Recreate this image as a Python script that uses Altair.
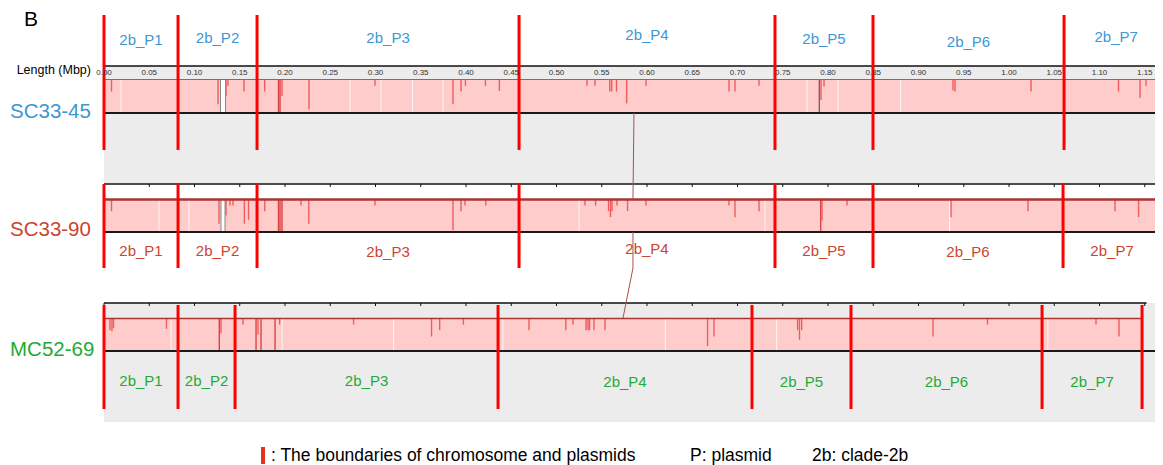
import altair as alt
import pandas as pd

FONT = "Liberation Sans"
XMAX = 1.1613  # Mbp shown across the plot width

# ---------------- data (Mbp) ----------------
genomes = ["SC33-45", "SC33-90", "MC52-69"]
genome_colors = ["#3d97d3", "#cc4430", "#1faa35"]
plasmids = ["2b_P1", "2b_P2", "2b_P3", "2b_P4", "2b_P5", "2b_P6", "2b_P7"]

bounds_sc3345 = [0.0, 0.0818, 0.1691, 0.4586, 0.7414, 0.8497, 1.0608]
bounds_sc3390 = [0.0, 0.0818, 0.1691, 0.4586, 0.7414, 0.8497, 1.0597]
bounds_mc5269 = [0.0, 0.0818, 0.1448, 0.4354, 0.7160, 0.8254, 1.0365, 1.1470]
genome_ends = [1.1760, 1.1680, 1.1459]

dip_pos_sc3345 = [0.0083, 0.1260, 0.1348, 0.1370, 0.1547, 0.1775, 0.1928, 0.1945, 0.1967,
                  0.2265, 0.2994, 0.3856, 0.3945, 0.3994, 0.4215, 0.4369, 0.5337, 0.5425,
                  0.5588, 0.5610, 0.5663, 0.5775, 0.5989, 0.6906, 0.6972, 0.7238, 0.7923,
                  0.7956, 0.9381, 0.9403, 1.0243, 1.1210, 1.1448, 1.1514]
dip_depth_sc3345 = [0.37, 0.74, 0.50, 0.20, 0.37, 0.37, 1.00, 1.00, 0.50,
                    0.90, 0.20, 0.74, 0.37, 0.20, 0.20, 0.35, 0.20, 0.20,
                    0.37, 0.37, 0.37, 0.72, 0.20, 0.37, 0.37, 0.20, 0.62,
                    0.22, 0.34, 0.37, 0.37, 0.37, 0.55, 0.20]
gap_pos_sc3345 = [0.0188, 0.2718, 0.3061, 0.3409, 0.3746, 0.7768, 0.8110, 0.8802]
notch_sc3345 = [0.1287, 0.1343]
dark_line_sc3345 = [0.7904]

dip_pos_sc3390 = [0.0083, 0.1271, 0.1348, 0.1392, 0.1425, 0.1551, 0.1597, 0.1776, 0.1928,
                  0.1945, 0.1967, 0.2177, 0.2263, 0.2994, 0.3856, 0.3945, 0.3989, 0.4219,
                  0.5315, 0.5432, 0.5575, 0.5597, 0.5613, 0.5669, 0.5785, 0.5989, 0.6906,
                  0.6972, 0.7238, 0.7919, 0.7934, 0.8210, 0.9359, 1.0210, 1.1171, 1.1432]
dip_depth_sc3390 = [0.37, 0.75, 0.50, 0.20, 0.20, 0.75, 0.63, 0.37, 1.00,
                    1.00, 1.00, 0.20, 0.75, 0.20, 0.95, 0.37, 0.20, 0.20,
                    0.20, 0.20, 0.37, 0.55, 0.37, 0.20, 0.37, 0.20, 0.20,
                    0.55, 0.37, 1.00, 0.65, 0.20, 0.55, 0.37, 0.37, 0.55]
gap_pos_sc3390 = [0.0608, 0.0939, 0.5249, 0.7304, 0.9343]
notch_sc3390 = [0.1293, 0.1337]

dip_pos_mc5269 = [0.0066, 0.0088, 0.0105, 0.0690, 0.1274, 0.1293, 0.1536, 0.1680, 0.1702,
                  0.1735, 0.1890, 0.1941, 0.2758, 0.3619, 0.3709, 0.3971, 0.4696, 0.5103,
                  0.5182, 0.5326, 0.5348, 0.5365, 0.5414, 0.5536, 0.6669, 0.6740, 0.7664,
                  0.7685, 0.7709, 0.9160, 0.9762, 1.0961, 1.1215]
dip_depth_mc5269 = [0.37, 0.40, 0.30, 0.33, 1.00, 0.46, 0.20, 1.00, 0.50,
                    1.00, 1.00, 0.20, 0.20, 0.56, 0.37, 0.20, 0.37, 0.37,
                    0.20, 0.37, 0.37, 0.37, 0.37, 0.37, 0.85, 0.56, 0.37,
                    0.66, 0.37, 0.56, 0.20, 0.20, 0.56]
gap_pos_mc5269 = [0.0740, 0.1967, 0.3200, 0.4406, 0.6203, 0.7432, 1.0429]

connector_mbp = [0.5856, 0.5845, 0.5845, 0.5845, 0.5735]

tick_values = [0.00, 0.05, 0.10, 0.15, 0.20, 0.25, 0.30, 0.35, 0.40, 0.45, 0.50, 0.55,
               0.60, 0.65, 0.70, 0.75, 0.80, 0.85, 0.90, 0.95, 1.00, 1.05, 1.10, 1.15]
tick_labels = ["0.00", "0.05", "0.10", "0.15", "0.20", "0.25", "0.30", "0.35", "0.40",
               "0.45", "0.50", "0.55", "0.60", "0.65", "0.70", "0.75", "0.80", "0.85",
               "0.90", "0.95", "1.00", "1.05", "1.10", "1.15"]

# ---------------- layout (page rows) ----------------
panels = [
    dict(top=79, bot=113, btop=15, bbot=150, lab_y=[40, 38, 38, 35, 39, 42, 37],
         edge="#c45050", edge_w=1.2, bg=(66, 183), ruler=66, ruler_end=XMAX, ticks=False),
    dict(top=199, bot=232, btop=184, bbot=268, lab_y=[251, 251, 252, 249, 251, 252, 251],
         edge="#a83434", edge_w=2.5, bg=None, ruler=184, ruler_end=XMAX, ticks=True),
    dict(top=318, bot=351, btop=305, bbot=409, lab_y=[381, 381, 381, 382, 382, 382, 382],
         edge="#a83434", edge_w=1.5, bg=(303, 422), ruler=303, ruler_end=1.152, ticks=True),
]
bounds = [bounds_sc3345, bounds_sc3390, bounds_mc5269]
dips = [(dip_pos_sc3345, dip_depth_sc3345), (dip_pos_sc3390, dip_depth_sc3390),
        (dip_pos_mc5269, dip_depth_mc5269)]
gaps = [gap_pos_sc3345, gap_pos_sc3390, gap_pos_mc5269]
notches = [notch_sc3345, notch_sc3390, None]

rects, rules, texts = [], [], []


def rule(x, x2, y, y2, color, w, op=1.0):
    rules.append(dict(x=x, x2=x2, y=y, y2=y2, color=color, w=w, op=op))


for i, p in enumerate(panels):
    if p["bg"]:
        rects.append(dict(x=0, x2=XMAX, y=p["bg"][0], y2=p["bg"][1], fill="#ececec"))
    rects.append(dict(x=0, x2=min(genome_ends[i], XMAX), y=p["top"], y2=p["bot"], fill="#ffcccc"))
    if notches[i]:
        rects.append(dict(x=notches[i][0], x2=notches[i][1], y=p["top"], y2=p["bot"], fill="#ffffff"))

rects_df = pd.DataFrame(rects)

# rulers
for i, p in enumerate(panels):
    rule(0, p["ruler_end"], p["ruler"], p["ruler"], "#111111", 1.5)
    if p["ticks"]:
        for t in tick_values:
            if t <= p["ruler_end"]:
                rule(t, t, p["ruler"], p["ruler"] + 3, "#111111", 1)

for i, p in enumerate(panels):
    h = p["bot"] - p["top"]
    pos, dep = dips[i]
    for x, d in zip(pos, dep):
        col = "#d84444" if d >= 0.99 else "#f05c5c"
        rule(x, x, p["top"], p["top"] + d * h, col, 1.4)
    for x in gaps[i]:
        rule(x, x, p["top"] + 1, p["bot"], "#ffffff", 1, 0.8)
    if notches[i]:
        a, b = notches[i]
        rule(a, a, p["top"], p["bot"], "#888888", 1)
        rule(b, b, p["top"], p["bot"], "#888888", 1)
    if i == 0:
        for x in dark_line_sc3345:
            rule(x, x, p["top"], p["bot"], "#8a5a5a", 1.4)
    rule(0, min(genome_ends[i], XMAX), p["top"] + 0.5, p["top"] + 0.5, p["edge"], p["edge_w"])
    rule(0, XMAX, p["bot"], p["bot"], "#1a1a1a", 2)

# boundaries
for i, p in enumerate(panels):
    for b in bounds[i]:
        rule(b, b, p["btop"], p["bbot"], "#ff0000", 3)

# connector between aligned blocks
c = connector_mbp
rule(c[0], c[1], panels[0]["bot"], panels[1]["top"], "#a85050", 1)
rule(c[2], c[3], panels[1]["bot"], panels[1]["bbot"], "#a85050", 1)
rule(c[3], c[4], panels[1]["bbot"], panels[2]["top"], "#a85050", 1)

rules_df = pd.DataFrame(rules)

# plasmid labels
for i, p in enumerate(panels):
    edges = bounds[i] + ([genome_ends[i]] if len(bounds[i]) == 7 else [])
    for k, name in enumerate(plasmids):
        texts.append(dict(x=(edges[k] + edges[k + 1]) / 2, y=p["lab_y"][k], t=name,
                          color=genome_colors[i]))
texts_df = pd.DataFrame(texts)
ticks_df = pd.DataFrame(dict(x=tick_values, t=tick_labels, y=[73] * len(tick_values)))

xs = alt.Scale(domain=[0, XMAX], nice=False, zero=False)
ys = alt.Scale(domain=[8, 465], reverse=True, nice=False, zero=False)

rect_layer = alt.Chart(rects_df).mark_rect().encode(
    x=alt.X("x:Q", scale=xs, axis=None), x2="x2:Q",
    y=alt.Y("y:Q", scale=ys, axis=None), y2="y2:Q",
    color=alt.Color("fill:N", scale=None),
)
rule_layer = alt.Chart(rules_df).mark_rule(strokeCap="butt").encode(
    x=alt.X("x:Q", scale=xs, axis=None), x2="x2:Q",
    y=alt.Y("y:Q", scale=ys, axis=None), y2="y2:Q",
    color=alt.Color("color:N", scale=None),
    strokeWidth=alt.StrokeWidth("w:Q", scale=None),
    opacity=alt.Opacity("op:Q", scale=None),
)
text_layer = alt.Chart(texts_df).mark_text(font=FONT, fontSize=15, align="center",
                                           baseline="middle").encode(
    x=alt.X("x:Q", scale=xs, axis=None),
    y=alt.Y("y:Q", scale=ys, axis=None),
    text="t:N",
    color=alt.Color("color:N", scale=None),
)
tick_layer = alt.Chart(ticks_df).mark_text(font=FONT, fontSize=8, align="center",
                                           baseline="middle", color="#333333").encode(
    x=alt.X("x:Q", scale=xs, axis=None),
    y=alt.Y("y:Q", scale=ys, axis=None),
    text="t:N",
)


def note(text, px, py, size, color="#000000", align="left"):
    return alt.Chart(pd.DataFrame({"t": [text]})).mark_text(
        font=FONT, fontSize=size, color=color, align=align, baseline="middle"
    ).encode(x=alt.value(px - 104), y=alt.value(py - 8), text="t:N")


notes = [
    note("B", 24, 20, 21),
    note("Length (Mbp)", 91, 70, 12.5, align="right"),
    note(genomes[0], 10, 112, 20.5, genome_colors[0]),
    note(genomes[1], 10, 230, 20.5, genome_colors[1]),
    note(genomes[2], 10, 350, 20.5, genome_colors[2]),
    note(": The boundaries of chromosome and plasmids", 271, 456, 17.5),
    note("P: plasmid", 690, 456, 17.5),
    note("2b: clade-2b", 812, 456, 17.5),
]
legend_bar = alt.Chart(pd.DataFrame({"a": [1]})).mark_rule(
    color="#e8301e", strokeWidth=4, strokeCap="butt"
).encode(x=alt.value(263 - 104), y=alt.value(447 - 8), y2=alt.value(464 - 8))

chart = alt.layer(rect_layer, rule_layer, text_layer, tick_layer, legend_bar, *notes).properties(
    width=1051, height=457,
    autosize=alt.AutoSizeParams(type="none"),
    padding={"left": 96, "top": 0, "right": 0, "bottom": 0},
    background="white",
).configure_view(stroke=None)

chart.save("out.html", embed_options={"renderer": "svg", "actions": False})
